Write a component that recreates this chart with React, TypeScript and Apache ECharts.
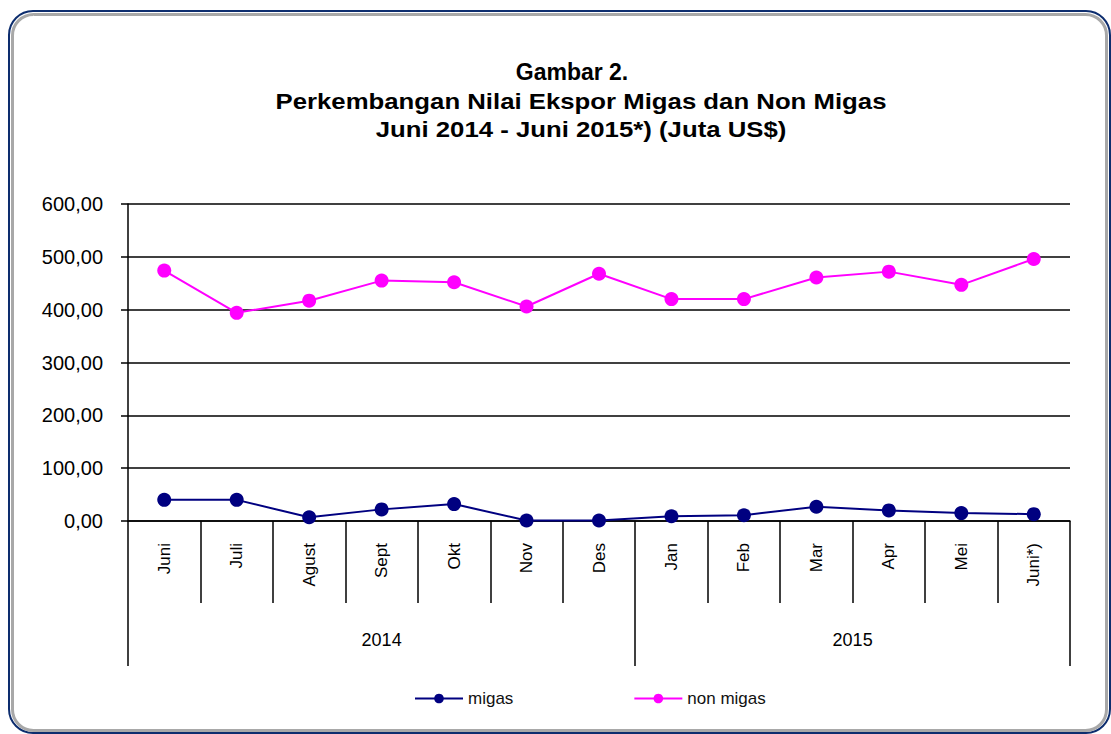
import React, { useEffect, useRef } from "react";
import * as echarts from "echarts";

const months = ["Juni", "Juli", "Agust", "Sept", "Okt", "Nov", "Des", "Jan", "Feb", "Mar", "Apr", "Mei", "Juni*)"];
const yearGroups = [
  { label: "2014", count: 7 },
  { label: "2015", count: 6 },
];
const migas = [40, 40, 7, 22, 32, 1, 1, 9, 11, 27, 20, 15, 13];
const nonMigas = [474, 394, 417, 455, 452, 406, 468, 420, 420, 461, 472, 447, 496];
const titleLines = [
  "Gambar 2.",
  "Perkembangan Nilai Ekspor Migas dan Non Migas",
  "Juni 2014 - Juni 2015*) (Juta US$)",
];

const FONT = "'Liberation Sans', Arial, sans-serif";

export default function App() {
  const ref = useRef<HTMLDivElement>(null);

  useEffect(() => {
    if (!ref.current) return;
    const chart = echarts.init(ref.current, undefined, { renderer: "svg" });

    const boundaries: number[] = [0];
    const centers: number[] = [];
    const centerLabels: Record<string, string> = {};
    let acc = 0;
    yearGroups.forEach((g) => {
      const c = acc + g.count / 2;
      centers.push(c);
      centerLabels[String(c)] = g.label;
      acc += g.count;
      boundaries.push(acc);
    });

    const titleLayout = [
      { x: 572, y: 72, sx: 1.0 },
      { x: 581, y: 100.5, sx: 1.12 },
      { x: 581, y: 129, sx: 1.12 },
    ];

    const titleGraphics = titleLines.map((t, i) => ({
      type: "text",
      x: titleLayout[i].x,
      y: titleLayout[i].y,
      scaleX: titleLayout[i].sx,
      style: {
        text: t,
        fontFamily: FONT,
        fontWeight: "bold",
        fontSize: 23,
        fill: "#000",
        align: "center",
        verticalAlign: "middle",
      },
    }));

    chart.setOption({
      animation: false,
      backgroundColor: "#ffffff",
      textStyle: { fontFamily: FONT },
      graphic: [
        {
          type: "rect",
          z: 0,
          shape: { x: 9, y: 11, width: 1101, height: 722, r: 24 },
          style: { fill: "none", stroke: "#0d2d6e", lineWidth: 2 },
        },
        {
          type: "rect",
          z: 0,
          shape: { x: 12.5, y: 14.5, width: 1094, height: 716, r: 21 },
          style: { fill: "none", stroke: "#a8a8a8", lineWidth: 3 },
        },
        ...titleGraphics,
      ],
      legend: {
        left: 409,
        top: 685,
        itemWidth: 48,
        itemHeight: 12,
        itemGap: 120,
        textStyle: { fontSize: 17, color: "#111", fontFamily: FONT },
        data: ["migas", "non migas"],
      },
      grid: { left: 128, right: 41, top: 204, bottom: 213, containLabel: false },
      xAxis: [
        {
          type: "category",
          data: months,
          boundaryGap: true,
          axisLine: { show: true, lineStyle: { color: "#000", width: 1.5 } },
          axisTick: { show: true, interval: 0, length: 82, lineStyle: { color: "#000", width: 1.5 } },
          axisLabel: {
            interval: 0,
            rotate: 90,
            margin: 22,
            fontSize: 17,
            color: "#000",
            fontFamily: FONT,
          },
          splitLine: { show: false },
        },
        {
          type: "value",
          min: 0,
          max: months.length,
          position: "bottom",
          offset: 82,
          axisLine: { show: false },
          axisTick: {
            show: true,
            customValues: boundaries,
            length: 63,
            lineStyle: { color: "#000", width: 1.5 },
          },
          axisLabel: {
            show: true,
            customValues: centers,
            margin: 28,
            fontSize: 18,
            color: "#000",
            fontFamily: FONT,
            formatter: (v: number) => centerLabels[String(v)] ?? "",
          },
          splitLine: { show: false },
        },
      ],
      yAxis: {
        type: "value",
        min: 0,
        max: 600,
        interval: 100,
        axisLine: { show: true, lineStyle: { color: "#000", width: 1.5 } },
        axisTick: { show: true, length: 7, lineStyle: { color: "#000", width: 1.5 } },
        axisLabel: {
          margin: 25,
          fontSize: 20,
          color: "#000",
          fontFamily: FONT,
          formatter: (v: number) => v.toFixed(2).replace(".", ","),
        },
        splitLine: { show: true, lineStyle: { color: "#000", width: 1.5 } },
      },
      series: [
        {
          name: "migas",
          type: "line",
          data: migas,
          symbol: "circle",
          symbolSize: 14,
          itemStyle: { color: "#000080" },
          lineStyle: { color: "#000080", width: 2 },
        },
        {
          name: "non migas",
          type: "line",
          data: nonMigas,
          symbol: "circle",
          symbolSize: 14,
          itemStyle: { color: "#ff00ff" },
          lineStyle: { color: "#ff00ff", width: 2 },
        },
      ],
    });

    return () => chart.dispose();
  }, []);

  return (
    <div
      ref={ref}
      style={{ position: "fixed", left: 0, top: 0, width: 1111, height: 734, background: "#fff" }}
    />
  );
}
